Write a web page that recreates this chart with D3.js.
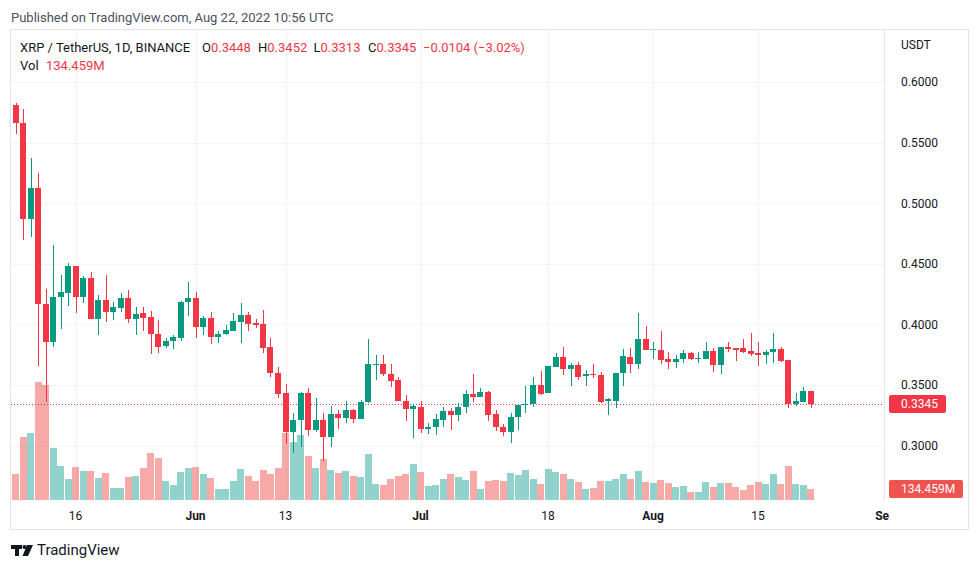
<!DOCTYPE html>
<html><head><meta charset="utf-8">
<script src="https://cdn.jsdelivr.net/npm/d3@7"></script>
<style>
body{margin:0;background:#fff;}
svg{display:block;font-family:Roboto,"Noto Sans",sans-serif;}
</style>
</head><body>
<svg id="c" width="980" height="569"></svg>
<script>
// ---- DATA ----
const startDate = new Date(Date.UTC(2022, 4, 8));
const opens = [
.5810,.5660,.4870,.5130,.4172,.3853,.4224,.4262,.4483,.4224,
.4381,.4048,.4205,.4100,.4139,.4221,.4048,.4092,.4062,.3924,
.3823,.3864,.3891,.4188,.4221,.3980,.4051,.3899,.3922,.3946,
.4023,.4078,.4015,.4004,.3814,.3597,.3432,.3116,.3212,.3437,
.3130,.3212,.3074,.3262,.3226,.3295,.3218,.3358,.3663,.3674,
.3592,.3542,.3371,.3300,.3322,.3140,.3157,.3212,.3286,.3251,
.3322,.3424,.3399,.3446,.3259,.3157,.3116,.3234,.3333,.3341,
.3501,.3432,.3652,.3729,.3630,.3668,.3572,.3592,.3583,.3369,
.3371,.3597,.3734,.3674,.3880,.3790,.3792,.3715,.3693,.3713,
.3767,.3713,.3718,.3784,.3668,.3814,.3804,.3804,.3781,.3762,
.3748,.3770,.3795,.3707,.3344,.3363,.3448];
const highs = [
.5825,.5780,.5370,.5250,.4293,.4656,.4408,.4505,.4483,.4403,
.4430,.4241,.4408,.4186,.4262,.4285,.4144,.4144,.4114,.4035,
.3889,.3913,.4190,.4348,.4268,.4073,.4106,.3949,.3993,.4097,
.4177,.4106,.4043,.4120,.3886,.3652,.3509,.3272,.3446,.3474,
.3396,.3267,.3328,.3295,.3371,.3300,.3377,.3878,.3748,.3748,
.3672,.3564,.3418,.3342,.3369,.3185,.3259,.3317,.3309,.3350,
.3460,.3592,.3474,.3449,.3295,.3180,.3267,.3336,.3493,.3569,
.3616,.3660,.3767,.3817,.3686,.3693,.3625,.3674,.3610,.3396,
.3600,.3798,.3804,.4097,.3990,.3858,.3946,.3776,.3748,.3790,
.3776,.3770,.3853,.3804,.3816,.3858,.3810,.3880,.3927,.3853,
.3790,.3927,.3817,.3710,.3432,.3487,.3452];
const lows = [
.5570,.4700,.4720,.3658,.3363,.3817,.3960,.4153,.4097,.4175,
.4045,.3913,.4020,.4037,.4106,.4010,.3910,.3949,.3757,.3767,
.3809,.3795,.3866,.4073,.3891,.3913,.3839,.3850,.3913,.3946,
.3850,.3949,.3974,.3767,.3564,.3396,.3014,.2942,.2987,.3083,
.3111,.2876,.2987,.3135,.3190,.3190,.3218,.3350,.3542,.3575,
.3487,.3371,.3204,.3061,.3102,.3094,.3088,.3157,.3130,.3204,
.3272,.3363,.3399,.3204,.3119,.3080,.3020,.3130,.3272,.3317,
.3418,.3432,.3652,.3583,.3493,.3542,.3495,.3561,.3350,.3253,
.3309,.3493,.3602,.3630,.3788,.3718,.3672,.3633,.3644,.3685,
.3710,.3685,.3718,.3610,.3589,.3776,.3701,.3762,.3740,.3660,
.3674,.3680,.3693,.3309,.3328,.3363,.3313];
const closes = [
.5660,.4870,.5130,.4167,.3853,.4230,.4268,.4483,.4224,.4381,
.4048,.4205,.4103,.4147,.4221,.4048,.4084,.4056,.3919,.3817,
.3864,.3897,.4188,.4221,.3980,.4051,.3899,.3922,.3952,.4026,
.4078,.4001,.3998,.3809,.3597,.3427,.3116,.3212,.3437,.3130,
.3212,.3074,.3262,.3226,.3295,.3218,.3358,.3672,.3674,.3589,
.3536,.3371,.3300,.3325,.3138,.3157,.3218,.3286,.3251,.3322,
.3424,.3399,.3446,.3253,.3152,.3116,.3234,.3336,.3344,.3501,
.3427,.3658,.3729,.3630,.3668,.3569,.3592,.3583,.3361,.3383,
.3597,.3743,.3674,.3880,.3790,.3795,.3707,.3693,.3713,.3767,
.3713,.3724,.3784,.3668,.3814,.3795,.3790,.3773,.3754,.3748,
.3770,.3795,.3701,.3342,.3366,.3454,.3345];
const volumes = [ // millions
329,810,866,1525,1490,671,433,264,420,368,
368,286,351,151,151,294,307,411,606,537,
242,195,364,411,420,338,281,134,134,247,
403,303,247,381,329,416,866,749,836,567,
416,528,381,351,372,303,290,589,208,190,
270,303,329,459,364,182,195,273,329,290,
260,377,134,238,251,238,351,320,381,273,
203,394,364,329,273,225,143,156,247,247,
268,329,273,372,225,212,260,212,164,177,
99,99,225,164,212,212,164,121,195,225,
199,329,203,433,203,190,134.459];
const priceTicks = [0.30,0.35,0.40,0.45,0.50,0.55,0.60];
const timeTickDates = ["2022-05-16","2022-06-01","2022-06-13","2022-07-01","2022-07-18","2022-08-01","2022-08-15","2022-09-01"];
const timeTickLabels = ["16","Jun","13","Jul","18","Aug","15","Sep"];
const timeTickBold = [false,true,false,true,false,true,false,true];
const lastPrice = 0.3345, lastVolume = "134.459M";

// ---- SETUP ----
const UP = "#089981", DOWN = "#F23645";
const UPV = "rgba(38,166,154,0.5)", DOWNV = "rgba(239,83,80,0.5)";
const dates = d3.utcDay.range(startDate, d3.utcDay.offset(startDate, opens.length));
const data = dates.map((d,i)=>({d, o:opens[i], h:highs[i], l:lows[i], c:closes[i], v:volumes[i]}));

const svg = d3.select("#c");
const paneL = 11, paneR = 884, paneT = 30, paneB = 500;

const x = d3.scaleUtc()
  .domain([startDate, new Date(Date.UTC(2022, 8, 1))])
  .range([15.5, 15.5 + 116 * 7.5]);
const y = d3.scaleLinear().domain([0.30, 0.60]).range([445.7, 82.1]);
const yv = d3.scaleLinear().domain([0, 1600]).range([499.5, 499.5 - 1600/13.0]);

// clip
const defs = svg.append("defs");
defs.append("clipPath").attr("id","pane").append("rect")
  .attr("x",paneL).attr("y",paneT).attr("width",paneR-paneL).attr("height",paneB-paneT);
defs.append("clipPath").attr("id","taxis").append("rect")
  .attr("x",paneL).attr("y",paneB).attr("width",889-paneL).attr("height",29);

// title
svg.append("text").attr("x",11).attr("y",17).attr("dy","0.35em")
  .attr("font-size",13).attr("fill","#4c525e")
  .text("Published on TradingView.com, Aug 22, 2022 10:56 UTC");

// frame
svg.append("rect").attr("x",10.5).attr("y",29.5).attr("width",958).attr("height",500)
  .attr("fill","none").attr("stroke","#e0e3eb");
svg.append("line").attr("x1",884.5).attr("x2",884.5).attr("y1",30).attr("y2",500)
  .attr("stroke","#e0e3eb");

// grid
const grid = svg.append("g").attr("clip-path","url(#pane)").attr("shape-rendering","crispEdges");
grid.selectAll(".hg").data(priceTicks).join("line")
  .attr("x1",paneL).attr("x2",paneR)
  .attr("y1",d=>Math.round(y(d))+0.5).attr("y2",d=>Math.round(y(d))+0.5)
  .attr("stroke","#f0f3fa");
const tDates = timeTickDates.map(s=>new Date(s+"T00:00:00Z"));
grid.selectAll(".vg").data(tDates).join("line")
  .attr("x1",d=>Math.round(x(d))+0.5).attr("x2",d=>Math.round(x(d))+0.5)
  .attr("y1",paneT).attr("y2",paneB)
  .attr("stroke","#f0f3fa");

// plot
const plot = svg.append("g").attr("clip-path","url(#pane)");
// volume
plot.append("g").attr("shape-rendering","crispEdges").selectAll("rect").data(data).join("rect")
  .attr("x",d=>Math.round(x(d.d)-3.25)).attr("width",6.5)
  .attr("y",d=>yv(d.v)).attr("height",d=>yv(0)-yv(d.v))
  .attr("fill",d=>d.c>=d.o?UPV:DOWNV);
// last price dotted line
plot.append("line").attr("x1",paneL).attr("x2",paneR)
  .attr("y1",Math.round(y(lastPrice))+0.5).attr("y2",Math.round(y(lastPrice))+0.5)
  .attr("stroke",DOWN).attr("stroke-dasharray","1,2");
// wicks
const cg = plot.append("g").attr("shape-rendering","crispEdges");
cg.selectAll(".w").data(data).join("rect")
  .attr("x",d=>Math.round(x(d.d))-0.5).attr("width",1)
  .attr("y",d=>y(d.h)).attr("height",d=>Math.max(1,y(d.l)-y(d.h)))
  .attr("fill",d=>d.c>=d.o?UP:DOWN);
// bodies
cg.selectAll(".b").data(data).join("rect")
  .attr("x",d=>Math.round(x(d.d))-3).attr("width",6)
  .attr("y",d=>y(Math.max(d.o,d.c))).attr("height",d=>Math.max(1,Math.abs(y(d.o)-y(d.c))))
  .attr("fill",d=>d.c>=d.o?UP:DOWN);

// price axis
const pa = svg.append("g").attr("font-size",12).attr("fill","#131722");
pa.selectAll("text").data(priceTicks).join("text")
  .attr("x",901).attr("y",d=>y(d)).attr("dy","0.35em")
  .text(d=>d.toFixed(4));
pa.append("text").attr("x",901).attr("y",45).attr("dy","0.35em").text("USDT");
// last price label
svg.append("rect").attr("x",889).attr("y",y(lastPrice)-9).attr("width",57).attr("height",18)
  .attr("rx",2).attr("fill",DOWN);
svg.append("text").attr("x",901).attr("y",y(lastPrice)).attr("dy","0.35em")
  .attr("font-size",12).attr("fill","#fff").text(lastPrice.toFixed(4));
// last volume label
svg.append("rect").attr("x",889).attr("y",480).attr("width",74).attr("height",18)
  .attr("rx",2).attr("fill","#ef5350");
svg.append("text").attr("x",901).attr("y",489).attr("dy","0.35em")
  .attr("font-size",12).attr("fill","#fff").text(lastVolume);

// time axis
const ta = svg.append("g").attr("clip-path","url(#taxis)").attr("font-size",12).attr("fill","#131722");
ta.selectAll("text").data(tDates).join("text")
  .attr("x",d=>x(d)).attr("y",516).attr("dy","0.35em").attr("text-anchor","middle")
  .attr("font-weight",(d,i)=>timeTickBold[i]?"bold":"normal")
  .text((d,i)=>timeTickLabels[i]);

// legend
const last = data[data.length-1];
const lg = svg.append("g").attr("font-size",13);
lg.append("text").attr("x",20).attr("y",47.5).attr("dy","0.35em").attr("fill","#131722")
  .text("XRP / TetherUS, 1D, BINANCE");
const legItems = [["O",last.o,202],["H",last.h,258],["L",last.l,313.5],["C",last.c,368]];
legItems.forEach(([k,v,lx])=>{
  const t = lg.append("text").attr("x",lx).attr("y",47.5).attr("dy","0.35em");
  t.append("tspan").attr("fill","#131722").text(k);
  t.append("tspan").attr("fill",DOWN).text(v.toFixed(4));
});
lg.append("text").attr("x",423).attr("y",47.5).attr("dy","0.35em").attr("fill",DOWN)
  .text("\u22120.0104 (\u22123.02%)");
lg.append("text").attr("x",20).attr("y",65.5).attr("dy","0.35em").attr("fill","#131722").text("Vol");
lg.append("text").attr("x",46).attr("y",65.5).attr("dy","0.35em").attr("fill",DOWN).text(lastVolume);

// logo
const logo = svg.append("g").attr("fill","#131722");
logo.append("rect").attr("x",11).attr("y",545).attr("width",11).attr("height",4);
logo.append("rect").attr("x",15).attr("y",545).attr("width",4).attr("height",11);
logo.append("circle").attr("cx",24.5).attr("cy",547).attr("r",2);
logo.append("path").attr("d","M27,545 L33,545 L28,556 L22.5,556 Z");
svg.append("text").attr("x",37).attr("y",550).attr("dy","0.35em").attr("font-size",15)
  .attr("fill","#131722").text("TradingView");
</script>
</body></html>
